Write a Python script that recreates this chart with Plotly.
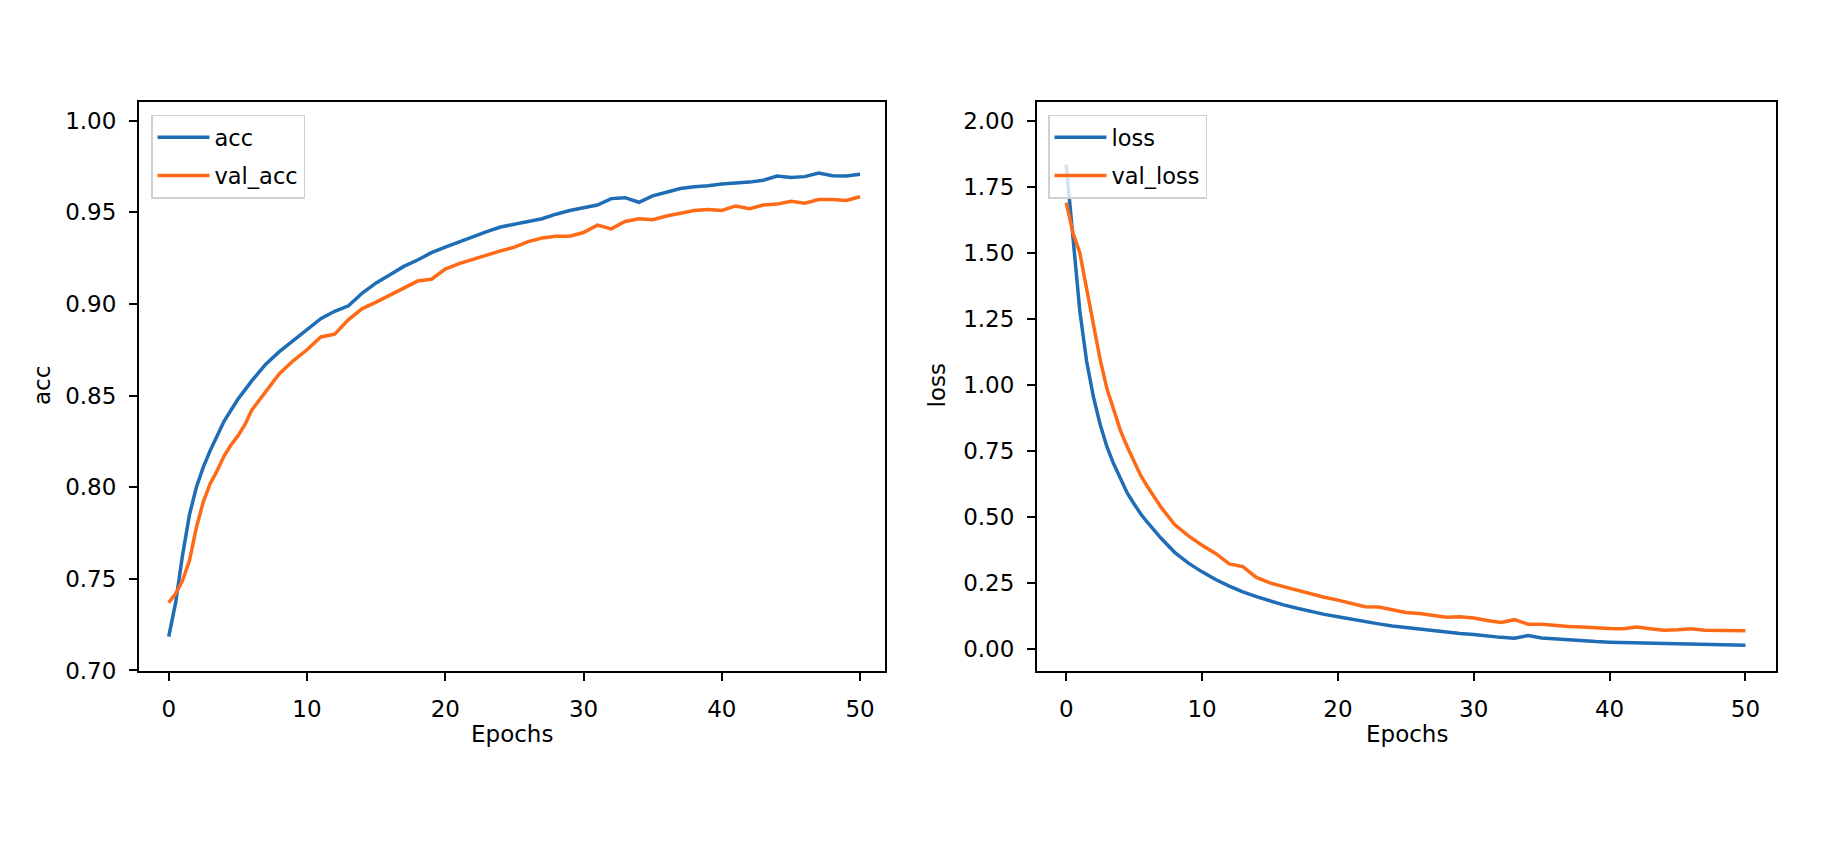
import plotly.graph_objects as go

W, H = 1829, 860
FONT = "DejaVu Sans"
BLUE = "#1f6db5"
ORANGE = "#ff6a16"

# half-epoch readings where the curves bend hard, whole epochs afterwards
epochs = [0, 0.5, 1, 1.5, 2, 2.5, 3, 3.5, 4, 4.5, 5, 5.5, 6] + list(range(7, 51))

acc = [0.7185, 0.737, 0.763, 0.785, 0.800, 0.811, 0.820, 0.828, 0.836, 0.842,
       0.848, 0.853, 0.858,
       0.867, 0.874, 0.880, 0.886, 0.892, 0.896, 0.899, 0.906, 0.9115, 0.916,
       0.9205, 0.924, 0.928, 0.931, 0.934, 0.937, 0.9395, 0.942, 0.9435, 0.945,
       0.9465, 0.949, 0.951, 0.9525, 0.954, 0.9575, 0.958, 0.9555, 0.959, 0.961,
       0.963, 0.964, 0.9645, 0.9655, 0.966, 0.9665, 0.9675, 0.9698, 0.969, 0.9695,
       0.9715, 0.970, 0.9698, 0.9708]
val_acc = [0.737, 0.742, 0.749, 0.760, 0.778, 0.792, 0.802, 0.809, 0.817, 0.823,
           0.828, 0.834, 0.842,
           0.852, 0.862, 0.869, 0.875, 0.882, 0.8835, 0.8915, 0.8975, 0.901, 0.905,
           0.909, 0.9125, 0.9135, 0.919, 0.922, 0.9245, 0.927, 0.929, 0.931, 0.934,
           0.936, 0.937, 0.937, 0.939, 0.943, 0.941, 0.945, 0.9465, 0.946, 0.948,
           0.9495, 0.951, 0.9515, 0.951, 0.9535, 0.952, 0.954, 0.9545, 0.956, 0.955,
           0.957, 0.957, 0.9565, 0.9585]

loss = [1.834, 1.56, 1.28, 1.09, 0.955, 0.85, 0.765, 0.70, 0.643, 0.59,
        0.549, 0.51, 0.478,
        0.418, 0.365, 0.325, 0.292, 0.263, 0.238, 0.216, 0.198, 0.181, 0.167,
        0.154, 0.142, 0.131, 0.122, 0.112, 0.103, 0.095, 0.087, 0.081, 0.075,
        0.069, 0.063, 0.059, 0.055, 0.049, 0.044, 0.041, 0.051, 0.042, 0.038,
        0.034, 0.031, 0.028, 0.026, 0.025, 0.023, 0.022, 0.020, 0.018, 0.017,
        0.016, 0.015, 0.0145, 0.014]
val_loss = [1.69, 1.575, 1.50, 1.365, 1.225, 1.095, 0.985, 0.90, 0.826, 0.765,
            0.708, 0.655, 0.613,
            0.535, 0.47, 0.428, 0.393, 0.362, 0.322, 0.312, 0.271, 0.25, 0.236,
            0.222, 0.208, 0.196, 0.185, 0.171, 0.16, 0.159, 0.147, 0.138, 0.134,
            0.128, 0.12, 0.122, 0.117, 0.108, 0.100, 0.111, 0.094, 0.094, 0.089,
            0.085, 0.083, 0.079, 0.078, 0.077, 0.083, 0.077, 0.071, 0.073, 0.077,
            0.071, 0.071, 0.068, 0.069]

acc_ticks = [0.70, 0.75, 0.80, 0.85, 0.90, 0.95, 1.00]
loss_ticks = [0.00, 0.25, 0.50, 0.75, 1.00, 1.25, 1.50, 1.75, 2.00]
epoch_ticks = [0, 10, 20, 30, 40, 50]


def fx(p):
    return p / W


def fy(p):
    return 1 - p / H


fig = go.Figure()

fig.add_trace(go.Scatter(x=epochs, y=acc, name="acc", mode="lines",
                         line=dict(color=BLUE, width=3.5), legendgroup="a",
                         xaxis="x", yaxis="y", legend="legend"))
fig.add_trace(go.Scatter(x=epochs, y=val_acc, name="val_acc", mode="lines",
                         line=dict(color=ORANGE, width=3.5), legendgroup="b",
                         xaxis="x", yaxis="y", legend="legend"))
fig.add_trace(go.Scatter(x=epochs, y=loss, name="loss", mode="lines",
                         line=dict(color=BLUE, width=3.5), legendgroup="c",
                         xaxis="x2", yaxis="y2", legend="legend2"))
fig.add_trace(go.Scatter(x=epochs, y=val_loss, name="val_loss", mode="lines",
                         line=dict(color=ORANGE, width=3.5), legendgroup="d",
                         xaxis="x2", yaxis="y2", legend="legend2"))

tick_font = dict(family=FONT, size=23, color="black")
axis_style = dict(showline=True, linecolor="black", linewidth=2, mirror=True,
                  ticks="outside", ticklen=8, tickwidth=2, tickcolor="black",
                  showgrid=False, zeroline=False, tickfont=tick_font,
                  ticklabelstandoff=8)

fig.update_layout(
    xaxis=dict(domain=[fx(131), fx(877)], range=[-2.15, 51.8], tickvals=epoch_ticks,
               anchor="y", **axis_style),
    yaxis=dict(domain=[fy(663), fy(93.5)], range=[0.6997, 1.0105], tickvals=acc_ticks,
               tickformat=".2f", anchor="x", **axis_style),
    xaxis2=dict(domain=[fx(1029), fx(1768)], range=[-2.15, 52.25], tickvals=epoch_ticks,
                anchor="y2", **axis_style),
    yaxis2=dict(domain=[fy(663), fy(93.5)], range=[-0.0833, 2.0727], tickvals=loss_ticks,
                tickformat=".2f", anchor="x2", **axis_style),
)

legend_style = dict(xanchor="left", yanchor="top", bgcolor="rgba(255,255,255,0.8)",
                    bordercolor="#d0d0d0", borderwidth=1.5, tracegroupgap=6,
                    itemwidth=52, font=dict(family=FONT, size=22.5, color="black"))
fig.update_layout(
    legend=dict(x=fx(143), y=fy(106.7), **legend_style),
    legend2=dict(x=fx(1040), y=fy(106.7), **legend_style),
)

# axis titles placed as text
title_font = dict(family=FONT, size=23, color="black")
fig.add_annotation(text="Epochs", x=fx(504), y=fy(726), xref="paper", yref="paper",
                   showarrow=False, font=title_font, xanchor="center", yanchor="middle")
fig.add_annotation(text="Epochs", x=fx(1398.5), y=fy(726), xref="paper", yref="paper",
                   showarrow=False, font=title_font, xanchor="center", yanchor="middle")
fig.add_annotation(text="acc", x=fx(34), y=fy(378), xref="paper", yref="paper",
                   showarrow=False, font=title_font, textangle=-90,
                   xanchor="center", yanchor="middle")
fig.add_annotation(text="loss", x=fx(928.5), y=fy(378), xref="paper", yref="paper",
                   showarrow=False, font=title_font, textangle=-90,
                   xanchor="center", yanchor="middle")

fig.update_layout(
    width=W, height=H,
    margin=dict(l=0, r=0, t=0, b=0),
    paper_bgcolor="white", plot_bgcolor="white",
    template="none",
    showlegend=True,
)

fig.write_html("out.html")
